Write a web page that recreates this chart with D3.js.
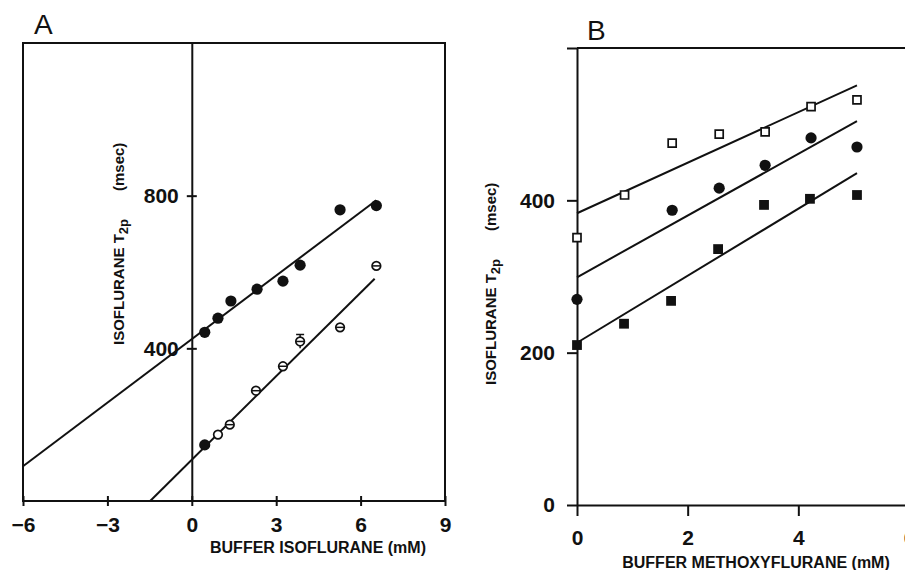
<!DOCTYPE html>
<html>
<head>
<meta charset="utf-8">
<script src="https://cdn.jsdelivr.net/npm/d3@7"></script>
<style>
  body { margin: 0; background: #fff; }
  svg { display: block; font-family: "Liberation Sans", Arial, sans-serif; }
</style>
</head>
<body>
<svg id="chart" width="905" height="570"></svg>
<script>
// Panel A: isoflurane T2p vs buffer isoflurane
const aTicksX = [-6, -3, 0, 3, 6, 9];
const aTicksY = [400, 800];
const aFilledX = [0.46, 0.93, 1.39, 2.32, 3.24, 3.85, 5.27, 6.56];
const aFilledY = [442, 479, 524, 555, 576, 618, 763, 774];
const aOpenX = [0.46, 0.93, 1.35, 2.28, 3.24, 3.85, 5.27, 6.56];
const aOpenY = [147, 174, 200, 289, 353, 418, 455, 616];
const aOpenKind = ['dot', 'ring', 'theta', 'theta', 'theta', 'theta', 'theta', 'theta'];
const aOpenErr = [0, 0, 0, 0, 0, 18, 0, 0];
const aFits = [
    { from: -6, to: 6.56, intercept: 424, slope: 55.5 },
    { from: -1.48, to: 6.5, intercept: 108, slope: 73 }
];

// Panel B: isoflurane T2p vs buffer methoxyflurane
const bTicksX = [0, 2, 4, 6];
const bTicksY = [0, 200, 400, 600];
const bOpenSqX = [0, 0.86, 1.72, 2.57, 3.40, 4.23, 5.06];
const bOpenSqY = [351, 407, 475, 487, 490, 523, 532];
const bDotX = [0, 1.72, 2.57, 3.40, 4.23, 5.06];
const bDotY = [270, 387, 416, 446, 482, 470];
const bBlockX = [0, 0.85, 1.70, 2.55, 3.38, 4.21, 5.06];
const bBlockY = [210, 238, 268, 336, 394, 402, 407];
const bFits = [
    { from: 0, to: 5.06, intercept: 383, slope: 33.2 },
    { from: 0, to: 5.06, intercept: 299, slope: 40.5 },
    { from: 0, to: 5.06, intercept: 213, slope: 44 }
];

const ink = '#111';
const svg = d3.select('#chart');

const minus = d => d < 0 ? '\u2212' + Math.abs(d) : String(d);

function drawFits(g, fits, x, y) {
    g.selectAll('line.fit')
        .data(fits)
        .join('line')
        .attr('class', 'fit')
        .attr('x1', d => x(d.from))
        .attr('y1', d => y(d.intercept + d.slope * d.from))
        .attr('x2', d => x(d.to))
        .attr('y2', d => y(d.intercept + d.slope * d.to))
        .attr('stroke', ink)
        .attr('stroke-width', 2);
}

function drawPoints(g, xs, ys, kinds, x, y, errs) {
    const pts = xs.map((v, i) => ({ x: v, y: ys[i], kind: kinds[i], err: errs ? errs[i] : 0 }));
    const grp = g.append('g');
    const sym = {
        dot: d3.symbol().type(d3.symbolCircle).size(Math.PI * 5.6 * 5.6),
        ring: d3.symbol().type(d3.symbolCircle).size(Math.PI * 4.3 * 4.3),
        theta: d3.symbol().type(d3.symbolCircle).size(Math.PI * 4.3 * 4.3),
        square: d3.symbol().type(d3.symbolSquare).size(64),
        block: d3.symbol().type(d3.symbolSquare).size(96)
    };

    // error bars first so markers sit on top
    grp.selectAll('path.err')
        .data(pts.filter(d => d.err > 0))
        .join('path')
        .attr('class', 'err')
        .attr('d', d => {
            const cx = x(d.x), top = y(d.y + d.err), bot = y(d.y - d.err);
            return `M${cx},${bot}V${top}M${cx - 4},${top}H${cx + 4}`;
        })
        .attr('stroke', ink)
        .attr('stroke-width', 1.5)
        .attr('fill', 'none');

    grp.selectAll('path.mark')
        .data(pts)
        .join('path')
        .attr('class', 'mark')
        .attr('transform', d => `translate(${x(d.x)},${y(d.y)})`)
        .attr('d', d => sym[d.kind]())
        .attr('fill', d => (d.kind === 'dot' || d.kind === 'block') ? ink : '#fff')
        .attr('stroke', ink)
        .attr('stroke-width', d => (d.kind === 'dot' || d.kind === 'block') ? 0 : 1.7);

    grp.selectAll('line.bar')
        .data(pts.filter(d => d.kind === 'theta'))
        .join('line')
        .attr('class', 'bar')
        .attr('x1', d => x(d.x) - 4)
        .attr('x2', d => x(d.x) + 4)
        .attr('y1', d => y(d.y))
        .attr('y2', d => y(d.y))
        .attr('stroke', ink)
        .attr('stroke-width', 1.5);
}

function styleAxis(g, size) {
    g.selectAll('text')
        .attr('fill', ink)
        .style('font-size', size + 'px')
        .style('font-weight', 'bold')
        .style('font-family', '"Liberation Sans", Arial, sans-serif');
    g.selectAll('line').attr('stroke', ink).attr('stroke-width', 2);
    g.selectAll('path.domain').attr('stroke', ink).attr('stroke-width', 2);
}

function yTitle(g, x, y) {
    const t = g.append('text')
        .attr('transform', `translate(${x},${y}) rotate(-90)`)
        .attr('fill', ink)
        .style('font-size', '15px')
        .style('font-weight', 'bold');
    t.append('tspan').text('ISOFLURANE T');
    t.append('tspan').attr('dy', 4).style('font-size', '13px').text('2p');
    t.append('tspan').attr('dx', 28).attr('dy', -4).style('font-size', '15px').text('(msec)');
}

// ---------- Panel A ----------
const xA = d3.scaleLinear().domain([-6, 9]).range([23, 445]);
const yA = d3.scaleLinear().domain([0, 1200]).range([501, 43]);
const gA = svg.append('g');

gA.append('rect')
    .attr('x', xA(-6))
    .attr('y', yA(1200))
    .attr('width', xA(9) - xA(-6))
    .attr('height', yA(0) - yA(1200))
    .attr('fill', 'none')
    .attr('stroke', ink)
    .attr('stroke-width', 2);

const axA = gA.append('g')
    .attr('transform', `translate(0,${yA(0)})`)
    .call(d3.axisBottom(xA).tickValues(aTicksX).tickSize(5).tickSizeOuter(0).tickPadding(11).tickFormat(minus));
axA.select('.domain').remove();
axA.selectAll('.tick line').attr('y1', -5);
styleAxis(axA, 21);

const ayA = gA.append('g')
    .attr('transform', `translate(${xA(0)},0)`)
    .call(d3.axisLeft(yA).tickValues(aTicksY).tickSize(5).tickSizeOuter(0).tickPadding(8));
ayA.selectAll('.tick line').attr('x1', 5);
styleAxis(ayA, 21);

drawFits(gA, aFits, xA, yA);
drawPoints(gA, aFilledX, aFilledY, aFilledX.map(() => 'dot'), xA, yA);
drawPoints(gA, aOpenX, aOpenY, aOpenKind, xA, yA, aOpenErr);

gA.append('text')
    .attr('x', 34).attr('y', 34)
    .attr('fill', ink)
    .style('font-size', '28px')
    .text('A');

gA.append('text')
    .attr('x', 318).attr('y', 553)
    .attr('text-anchor', 'middle')
    .attr('fill', ink)
    .style('font-size', '16px')
    .style('font-weight', 'bold')
    .text('BUFFER ISOFLURANE (mM)');

yTitle(gA, 124, 345);

// ---------- Panel B ----------
const xB = d3.scaleLinear().domain([0, 6]).range([577, 909]);
const yB = d3.scaleLinear().domain([0, 600]).range([505, 48]);
const gB = svg.append('g');

gB.append('line')
    .attr('x1', xB(0)).attr('x2', xB(6))
    .attr('y1', yB(600)).attr('y2', yB(600))
    .attr('stroke', ink)
    .attr('stroke-width', 2);

const axB = gB.append('g')
    .attr('transform', `translate(0,${yB(0)})`)
    .call(d3.axisBottom(xB).tickValues(bTicksX).tickSize(11).tickSizeOuter(0).tickPadding(14)
        .tickFormat(d3.format('d')));
styleAxis(axB, 21);

const ayB = gB.append('g')
    .attr('transform', `translate(${xB(0)},0)`)
    .call(d3.axisLeft(yB).tickValues(bTicksY).tickSize(10).tickSizeOuter(0).tickPadding(12)
        .tickFormat(d => d === 600 ? '' : d));
styleAxis(ayB, 21);

drawFits(gB, bFits, xB, yB);
drawPoints(gB, bOpenSqX, bOpenSqY, bOpenSqX.map(() => 'square'), xB, yB);
drawPoints(gB, bDotX, bDotY, bDotX.map(() => 'dot'), xB, yB);
drawPoints(gB, bBlockX, bBlockY, bBlockX.map(() => 'block'), xB, yB);

gB.append('text')
    .attr('x', 587).attr('y', 40)
    .attr('fill', ink)
    .style('font-size', '28px')
    .text('B');

gB.append('text')
    .attr('x', 756).attr('y', 568)
    .attr('text-anchor', 'middle')
    .attr('fill', ink)
    .style('font-size', '16px')
    .style('font-weight', 'bold')
    .text('BUFFER METHOXYFLURANE (mM)');

yTitle(gB, 496, 385);
</script>
</body>
</html>
